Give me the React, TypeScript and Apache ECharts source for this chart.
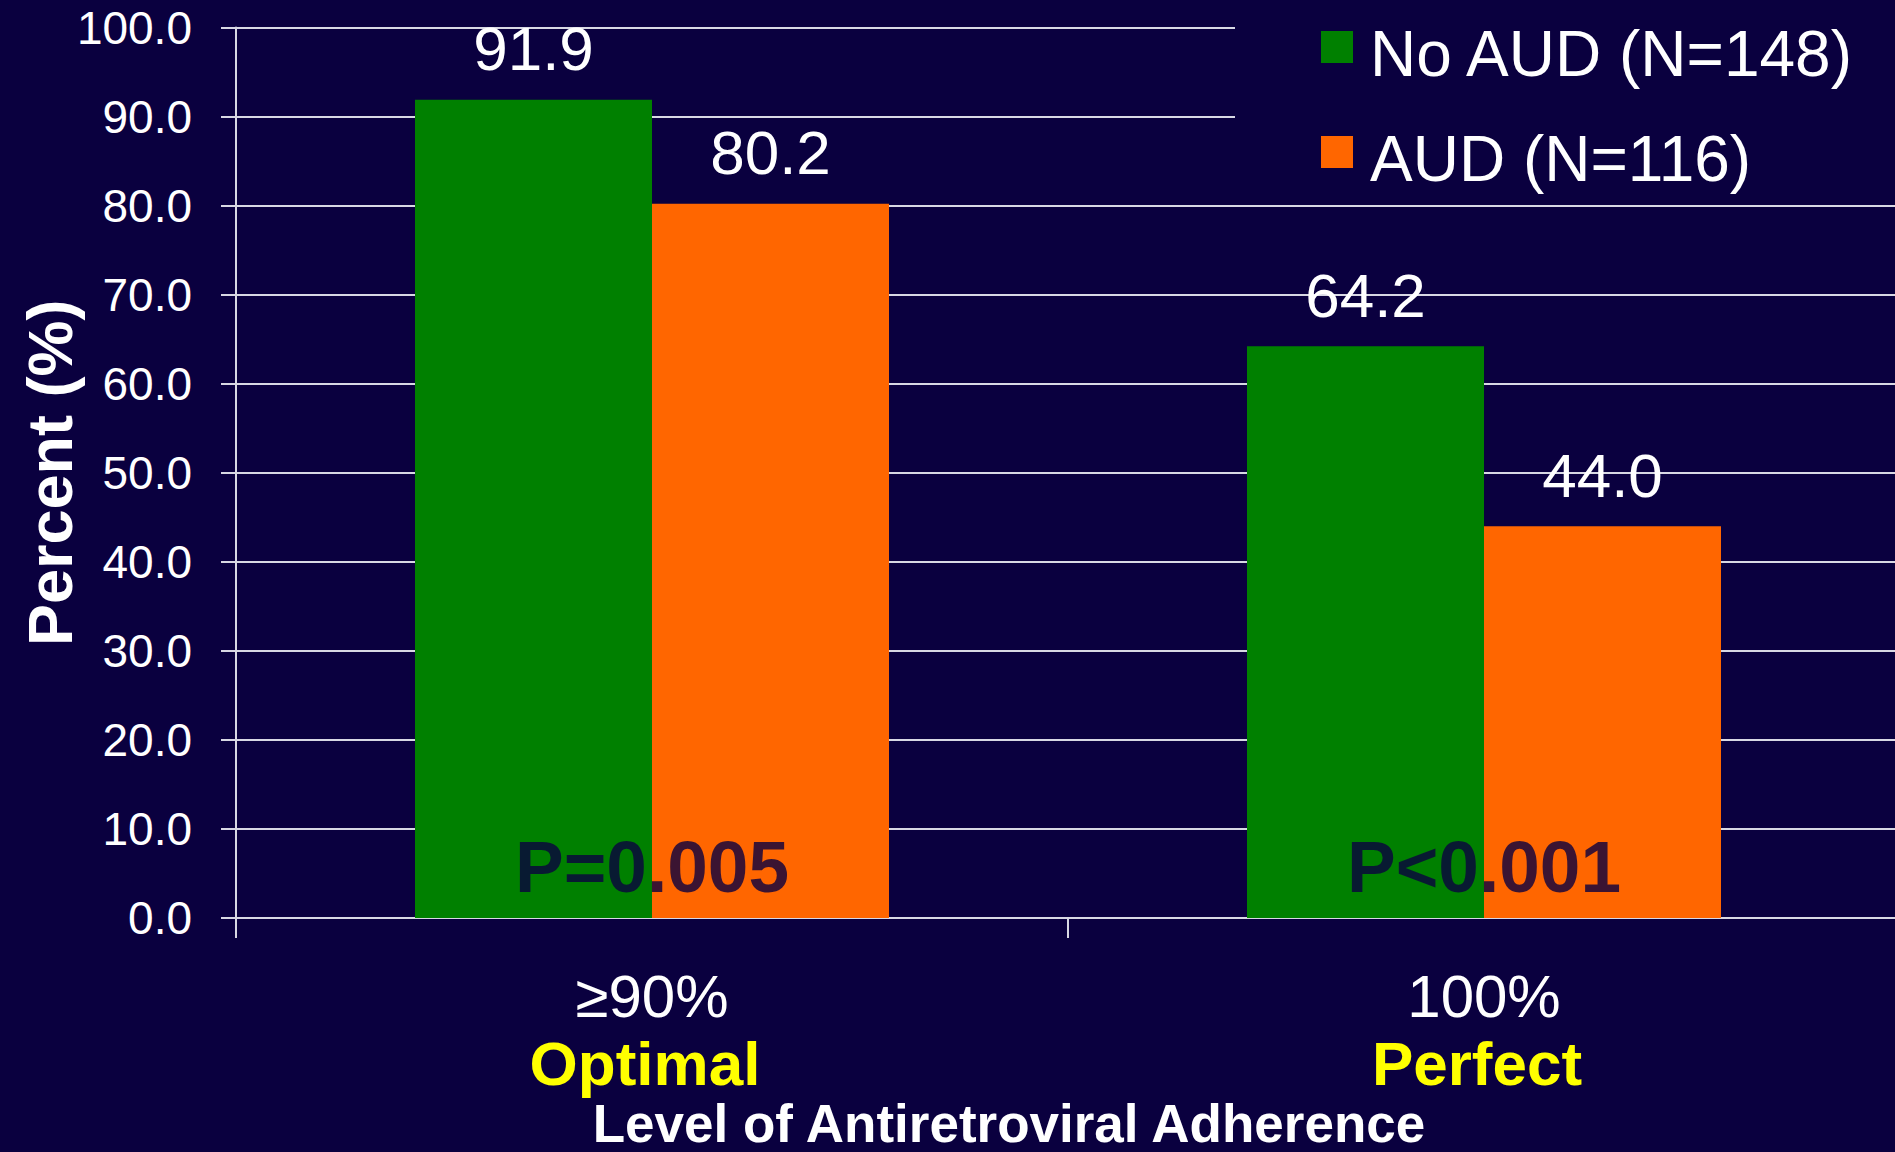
import React, { useEffect, useRef } from "react";
import * as echarts from "echarts";

const categories = ["≥90%", "100%"];
const categorySubtitles = ["Optimal", "Perfect"];
const seriesNames = ["No AUD (N=148)", "AUD (N=116)"];
const noAudValues = [91.9, 64.2];
const audValues = [80.2, 44.0];
const pValueLabels = ["P=0.005", "P<0.001"];
const pValueHeights = [5.8, 5.8];
const yMin = 0;
const yMax = 100;
const yInterval = 10;

const BG = "#0a003f";
const GREEN = "#008000";
const ORANGE = "#ff6600";
const LINE = "#d8d8e4";
const FONT = "'Liberation Sans', Arial, Helvetica, sans-serif";

export default function App() {
  const ref = useRef<HTMLDivElement>(null);

  useEffect(() => {
    if (!ref.current) return;
    const chart = echarts.init(ref.current, undefined, { renderer: "svg" });
    const valueLabel = {
      show: true,
      position: "top" as const,
      distance: 20,
      color: "#ffffff",
      fontSize: 62,
      fontFamily: FONT,
      formatter: (p: any) => Number(p.value).toFixed(1),
    };
    chart.setOption({
      animation: false,
      backgroundColor: BG,
      textStyle: { fontFamily: FONT },
      grid: {
        left: 236,
        top: 27.5,
        width: 1664,
        height: 890.5,
        containLabel: false,
        outerBoundsMode: "none",
      },
      legend: {
        data: seriesNames,
        orient: "vertical",
        left: 1235,
        top: 0,
        backgroundColor: BG,
        padding: [8, 60, 12, 86],
        itemWidth: 32,
        itemHeight: 32,
        itemGap: 27,
        icon: "rect",
        formatter: (name: string) => `{s|}{t|${name}}`,
        textStyle: {
          color: "#ffffff",
          fontSize: 64,
          fontFamily: FONT,
          padding: [0, 0, 0, 12],
          rich: {
            s: { width: 0, height: 78, lineHeight: 78 },
            t: {
              color: "#ffffff",
              fontSize: 64,
              lineHeight: 64,
              fontFamily: FONT,
              verticalAlign: "bottom",
            },
          },
        },
        z: 10,
      },
      xAxis: {
        type: "category",
        data: categories,
        axisLine: { show: true, lineStyle: { color: LINE, width: 2 } },
        axisTick: { show: true, length: 20, lineStyle: { color: LINE, width: 2 } },
        axisLabel: {
          margin: 45,
          formatter: (value: string, index: number) =>
            `{a|${value}}\n{b|${categorySubtitles[index]}}`,
          rich: {
            a: { color: "#ffffff", fontSize: 60, lineHeight: 67, fontFamily: FONT },
            b: {
              color: "#ffff00",
              fontSize: 62,
              fontWeight: "bold",
              lineHeight: 67,
              fontFamily: FONT,
              padding: [0, 14, 0, 0],
            },
          },
        },
        name: "Level of Antiretroviral Adherence",
        nameLocation: "middle",
        nameGap: 179,
        nameMoveOverlap: false,
        nameTextStyle: {
          color: "#ffffff",
          fontSize: 53,
          fontWeight: "bold",
          lineHeight: 53,
          fontFamily: FONT,
          padding: [0, 118, 0, 0],
        },
      },
      yAxis: {
        type: "value",
        min: yMin,
        max: yMax,
        interval: yInterval,
        axisLine: { show: true, lineStyle: { color: LINE, width: 2 } },
        axisTick: { show: true, length: 15, lineStyle: { color: LINE, width: 2 } },
        splitLine: { show: true, lineStyle: { color: LINE, width: 2 } },
        axisLabel: {
          color: "#ffffff",
          fontSize: 46,
          margin: 44,
          fontFamily: FONT,
          formatter: (v: number) => v.toFixed(1),
        },
        name: "Percent (%)",
        nameLocation: "middle",
        nameGap: 155,
        nameRotate: 90,
        nameMoveOverlap: false,
        nameTextStyle: {
          color: "#ffffff",
          fontSize: 63,
          fontWeight: "bold",
          lineHeight: 63,
          fontFamily: FONT,
        },
      },
      series: [
        {
          name: seriesNames[0],
          type: "bar",
          data: noAudValues,
          barWidth: 237,
          barGap: "0%",
          itemStyle: { color: GREEN },
          label: valueLabel,
        },
        {
          name: seriesNames[1],
          type: "bar",
          data: audValues,
          barWidth: 237,
          barGap: "0%",
          itemStyle: { color: ORANGE },
          label: valueLabel,
        },
        {
          name: "p-values",
          type: "scatter",
          data: categories.map((c, i) => [c, pValueHeights[i]]),
          symbolSize: 1,
          itemStyle: { color: "rgba(0,0,0,0)" },
          silent: true,
          z: 5,
          label: {
            show: true,
            position: "inside",
            color: BG,
            fontSize: 73,
            fontWeight: "bold",
            fontFamily: FONT,
            formatter: (p: any) => pValueLabels[p.dataIndex],
          },
        },
      ],
    });
    return () => chart.dispose();
  }, []);

  return (
    <div
      ref={ref}
      style={{ position: "fixed", left: 0, top: 0, width: 1895, height: 1152 }}
    />
  );
}
